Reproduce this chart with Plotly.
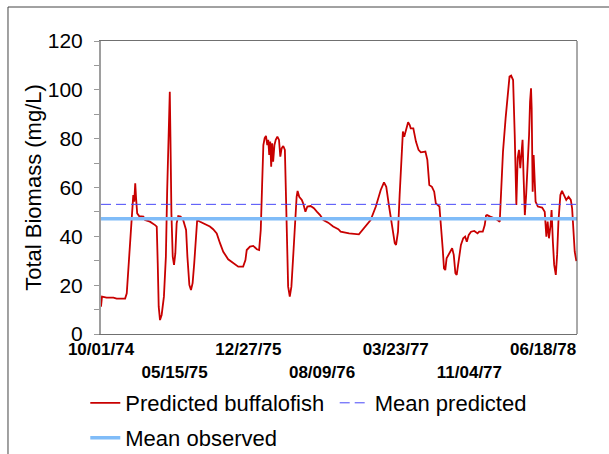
import pandas as pd
import plotly.graph_objects as go

start_date = "1974-10-01"
end_date = "1978-09-30"

# days since 10/01/74
day_offset = [0, 3, 17, 38, 48, 74, 79, 84, 89, 94, 97, 99, 102, 105, 108, 111, 117, 130, 135, 150,
              166, 171, 174, 177, 181, 186, 193, 199, 203, 206, 209, 211, 213, 216, 220, 224, 228, 232,
              237, 244, 252, 261, 265, 271, 276, 281, 286, 291, 295, 304, 319, 334, 344, 355, 365, 375,
              390, 406, 421, 436, 443, 447, 457, 467, 478, 485, 490, 494, 498, 502, 506, 510, 513, 516,
              519, 522, 525, 528, 532, 536, 541, 546, 550, 554, 559, 564, 567, 571, 574, 579, 584, 590,
              596, 600, 603, 608, 616, 620, 627, 633, 643, 653, 662, 672, 682, 697, 712, 728, 735, 761,
              791, 807, 827, 843, 858, 868, 875, 883, 893, 901, 905, 911, 916, 922, 926, 930, 936, 942,
              947, 950, 958, 966, 974, 981, 995, 1001, 1007, 1015, 1022, 1027, 1038, 1044, 1048, 1052,
              1056, 1060, 1068, 1077, 1082, 1087, 1091, 1097, 1104, 1111, 1117, 1122, 1128, 1135, 1145,
              1155, 1160, 1171, 1177, 1181, 1184, 1194, 1212, 1223, 1228, 1233, 1241, 1248, 1253, 1258,
              1264, 1269, 1274, 1278, 1282, 1286, 1290, 1293, 1296, 1300, 1304, 1309, 1313, 1316, 1319,
              1321, 1324, 1327, 1330, 1333, 1340, 1353, 1361, 1366, 1370, 1374, 1379, 1382, 1386, 1390,
              1395, 1399, 1403, 1409, 1414, 1420, 1427, 1434, 1441, 1445, 1449, 1453, 1458]

predicted_biomass = [11.2, 15.3, 14.9, 14.9, 14.5, 14.5, 16.7, 26.2, 35.8, 45.3, 53.5, 56.9, 54.2, 61.7,
                     54.9, 49.4, 48.3, 48.1, 46.7, 46.0, 44.6, 44.0, 29.0, 11.2, 5.7, 7.8, 15.3, 31.7,
                     59.0, 79.5, 90.4, 99.2, 80.8, 49.4, 31.7, 28.3, 33.0, 45.3, 48.3, 48.1, 46.7, 42.6,
                     31.7, 20.1, 18.0, 20.8, 29.0, 39.9, 46.7, 46.0, 45.1, 44.0, 42.9, 41.2, 37.2, 33.7,
                     30.6, 29.0, 27.6, 27.6, 30.3, 34.4, 35.8, 36.1, 34.7, 34.4, 42.6, 60.3, 77.4, 80.2,
                     81.1, 77.4, 79.5, 73.3, 78.8, 68.5, 78.1, 70.6, 77.4, 79.5, 80.8, 79.5, 72.6, 76.0,
                     77.0, 75.4, 61.7, 39.9, 19.4, 15.3, 19.4, 33.0, 48.1, 56.2, 58.6, 56.2, 54.9, 53.5,
                     50.1, 52.2, 52.4, 51.5, 50.1, 48.7, 46.7, 45.6, 44.0, 42.9, 41.9, 41.2, 40.8, 43.3,
                     46.7, 52.2, 59.0, 62.1, 60.3, 52.8, 44.6, 37.2, 36.5, 41.9, 56.9, 74.7, 82.9, 80.8,
                     84.2, 86.7, 85.6, 84.2, 84.2, 78.8, 75.4, 74.4, 74.7, 71.3, 61.0, 60.3, 58.3, 53.5,
                     52.2, 43.3, 35.1, 26.9, 26.2, 31.0, 33.0, 35.1, 32.4, 24.9, 24.2, 31.0, 36.5, 39.2,
                     39.9, 37.8, 40.6, 41.9, 42.2, 41.2, 41.9, 41.9, 44.6, 48.5, 48.7, 48.1, 47.1, 46.0,
                     61.0, 74.7, 88.3, 100.6, 105.4, 105.8, 104.0, 81.5, 52.8, 72.0, 75.4, 67.9, 74.7,
                     79.5, 65.1, 48.7, 56.9, 67.9, 81.5, 95.1, 100.6, 92.4, 58.3, 73.3, 62.4, 54.2, 52.2,
                     51.8, 50.1, 39.9, 46.0, 39.2, 44.6, 50.8, 37.8, 28.3, 24.2, 32.4, 46.0, 56.9, 58.6,
                     56.9, 54.9, 56.2, 54.9, 51.5, 40.6, 33.7, 29.9]

mean_predicted = 53.1
mean_observed = 47.2

tick_dates = ["1974-10-01", "1975-05-15", "1975-12-27", "1976-08-09",
              "1977-03-23", "1977-11-04", "1978-06-18"]
tick_labels = ["10/01/74", "05/15/75", "12/27/75", "08/09/76",
               "03/23/77", "11/04/77", "06/18/78"]
y_ticks = [0, 20, 40, 60, 80, 100, 120]

dates = pd.Timestamp(start_date) + pd.to_timedelta(day_offset, unit="D")
staggered = [t if i % 2 == 0 else "<br>" + t for i, t in enumerate(tick_labels)]

FONT = "Liberation Sans, Arial, sans-serif"

fig = go.Figure()
fig.add_trace(go.Scatter(
    x=dates, y=predicted_biomass, mode="lines", name="Predicted buffalofish",
    line=dict(color="#C80000", width=1.8), legend="legend", showlegend=True))
fig.add_trace(go.Scatter(
    x=[start_date, end_date], y=[mean_predicted, mean_predicted], mode="lines",
    name="Mean predicted", line=dict(color="#4848F8", width=1, dash="10px,5px"),
    legend="legend2", showlegend=True))
fig.add_trace(go.Scatter(
    x=[start_date, end_date], y=[mean_observed, mean_observed], mode="lines",
    name="Mean observed", line=dict(color="#80BCF8", width=3.5), legend="legend3",
    showlegend=True))

legend_common = dict(font=dict(family=FONT, size=22, color="black"), bgcolor="rgba(0,0,0,0)",
                     borderwidth=0, yanchor="middle", xanchor="left", orientation="h")

fig.update_layout(
    width=609, height=454,
    margin=dict(l=101, r=32, t=41, b=120, autoexpand=False),
    paper_bgcolor="white", plot_bgcolor="white",
    showlegend=True,
    font=dict(family=FONT, color="black"),
    legend=dict(x=-0.033, y=-0.2355, visible=True, **legend_common),
    legend2=dict(x=0.491, y=-0.2355, visible=True, **legend_common),
    legend3=dict(x=-0.033, y=-0.355, visible=True, **legend_common),
    xaxis=dict(
        type="date", range=[start_date, end_date],
        tickvals=tick_dates, ticktext=staggered, tickangle=0,
        tickfont=dict(family=FONT, size=17, color="black", weight="bold"),
        ticks="", showgrid=False, zeroline=False,
        showline=True, linecolor="#707070", linewidth=1, mirror=True,
    ),
    yaxis=dict(
        range=[0, 120], tickvals=y_ticks,
        ticks="outside", ticklen=5, tickcolor="#999999", tickwidth=1,
        minor=dict(dtick=10, ticks="outside", ticklen=5, tickcolor="#999999", tickwidth=1),
        tickfont=dict(family=FONT, size=21, color="black"),
        ticklabelstandoff=7,
        title=dict(text="Total Biomass (mg/L)", font=dict(family=FONT, size=22, color="black"),
                   standoff=0),
        showgrid=False, zeroline=False,
        showline=True, linecolor="#9E9E9E", linewidth=2,
    ),
    shapes=[
        dict(type="line", xref="paper", yref="paper", x0=1, x1=1, y0=0, y1=1,
             line=dict(color="#555555", width=1)),
        dict(type="line", xref="paper", yref="paper", x0=-0.1954, x1=-0.1954, y0=-0.42, y1=1.116,
             line=dict(color="#444444", width=1)),
        dict(type="line", xref="paper", yref="paper", x0=-0.1954, x1=1.08, y0=1.116, y1=1.116,
             line=dict(color="#444444", width=1)),
    ],
)

fig.write_html("out.html", config={"displayModeBar": False},
               post_script="document.body.style.margin='0px';document.body.style.overflow='hidden';")
